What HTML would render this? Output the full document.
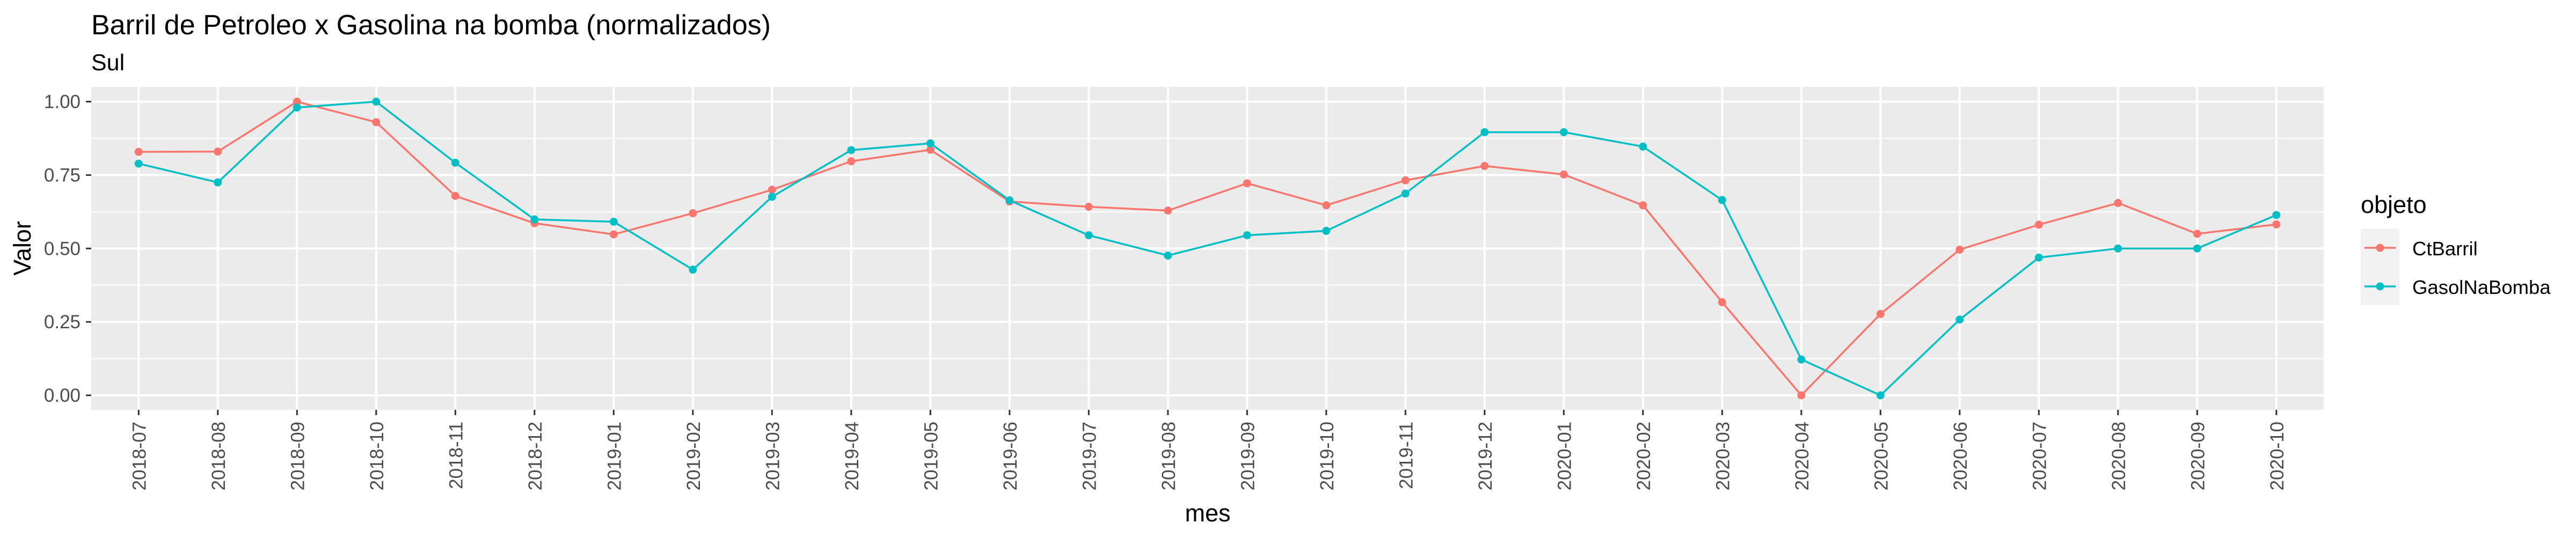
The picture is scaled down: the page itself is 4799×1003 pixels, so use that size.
<!DOCTYPE html>
<html><head><meta charset="utf-8"><style>
html,body{margin:0;padding:0;background:#fff;}
svg{display:block;font-family:"Liberation Sans",Arial,sans-serif;}
</style></head><body>
<svg id="chart" width="4799" height="1003" viewBox="0 0 4799 1003">
<text x="170" y="64" font-size="52" fill="#000">Barril de Petroleo x Gasolina na bomba (normalizados)</text>
<text x="170" y="131" font-size="43" fill="#000">Sul</text>
<rect x="170" y="162" width="4159" height="602" fill="#ebebeb"/>
<g id="grid"></g><g id="axes"></g><g id="series"></g>
<text x="2250" y="972" font-size="45" text-anchor="middle" fill="#000">mes</text>
<text transform="translate(57,463) rotate(-90)" font-size="45" text-anchor="middle" fill="#000">Valor</text>
<g>
<text x="4398" y="397" font-size="45" fill="#000">objeto</text>
<rect x="4398" y="426" width="72" height="143" fill="#f2f2f2"/>
<g>
<line x1="4405" x2="4463" y1="462" y2="462" stroke="#F8766D" stroke-width="3.5"/>
<circle cx="4434" cy="462" r="7.5" fill="#F8766D"/>
<text x="4494" y="476" font-size="36.5" fill="#000">CtBarril</text></g>
<g>
<line x1="4405" x2="4463" y1="534" y2="534" stroke="#00BFC4" stroke-width="3.5"/>
<circle cx="4434" cy="534" r="7.5" fill="#00BFC4"/>
<text x="4494" y="548" font-size="36.5" fill="#000">GasolNaBomba</text></g>
</g>
</svg>
<script>
const categories = ["2018-07","2018-08","2018-09","2018-10","2018-11","2018-12","2019-01","2019-02","2019-03","2019-04","2019-05","2019-06","2019-07","2019-08","2019-09","2019-10","2019-11","2019-12","2020-01","2020-02","2020-03","2020-04","2020-05","2020-06","2020-07","2020-08","2020-09","2020-10"];
const ctBarril = [0.829,0.830,1.000,0.930,0.679,0.586,0.548,0.620,0.700,0.797,0.836,0.660,0.642,0.629,0.722,0.647,0.732,0.781,0.752,0.647,0.317,0.000,0.277,0.496,0.581,0.655,0.550,0.582];
const gasolNaBomba = [0.789,0.725,0.980,1.000,0.792,0.599,0.591,0.428,0.676,0.835,0.858,0.664,0.545,0.476,0.545,0.560,0.687,0.896,0.896,0.847,0.665,0.122,0.000,0.258,0.469,0.500,0.500,0.614];
const yTicks = [0,0.25,0.5,0.75,1.0];
const yTickLabels = ["0.00","0.25","0.50","0.75","1.00"];

const NS="http://www.w3.org/2000/svg";
const X0=258.3, STEP=147.5, Y0=737, Y1=189.5;
function xPos(i){return X0+i*STEP;}
function yPos(v){return Y0+(Y1-Y0)*v;}
function mk(tag,attrs,parent){const e=document.createElementNS(NS,tag);for(const k in attrs)e.setAttribute(k,attrs[k]);parent.appendChild(e);return e;}
const grid=document.getElementById('grid'), axes=document.getElementById('axes'), series=document.getElementById('series');
// minor y grid
for(let i=0;i<yTicks.length-1;i++){
  const v=(yTicks[i]+yTicks[i+1])/2;
  const l=mk('line',{x1:170,x2:4329,y1:yPos(v),y2:yPos(v),stroke:'#fff','stroke-width':2},grid);
  
  
}
yTicks.forEach((v,i)=>{
  const l=mk('line',{x1:170,x2:4329,y1:yPos(v),y2:yPos(v),stroke:'#fff','stroke-width':4},grid);
  
  
  const t=mk('line',{x1:160,x2:170,y1:yPos(v),y2:yPos(v),stroke:'#333','stroke-width':3},axes);
  
  
  const tx=mk('text',{x:150,y:yPos(v)+12,'font-size':35,'text-anchor':'end',fill:'#4d4d4d'},axes);
  tx.textContent=yTickLabels[i];
  
  
});
categories.forEach((c,i)=>{
  const x=xPos(i);
  const l=mk('line',{x1:x,x2:x,y1:162,y2:764,stroke:'#fff','stroke-width':4},grid);
  
  
  const t=mk('line',{x1:x,x2:x,y1:764,y2:774,stroke:'#333','stroke-width':3},axes);
  
  
  const tx=mk('text',{transform:`translate(${x+13},786) rotate(-90)`,'font-size':35,'text-anchor':'end',fill:'#4d4d4d'},axes);
  tx.textContent=c;
  
  
});
function drawSeries(vals,color,name){
  const pts=vals.map((v,i)=>xPos(i)+','+yPos(v)).join(' ');
  const pl=mk('polyline',{points:pts,fill:'none',stroke:color,'stroke-width':3.5,'stroke-linejoin':'round'},series);
  
  
  vals.forEach((v,i)=>{
    const c=mk('circle',{cx:xPos(i),cy:yPos(v),r:7.5,fill:color},series);
    
    
  });
}
drawSeries(ctBarril,'#F8766D','ctbarril');
drawSeries(gasolNaBomba,'#00BFC4','gasolnabomba');
</script>
</body></html>
